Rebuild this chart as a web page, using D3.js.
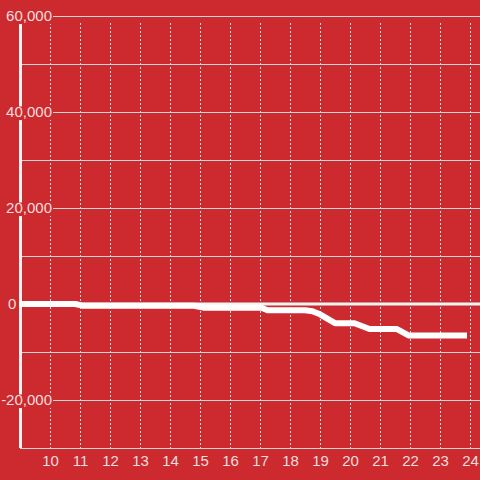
<!DOCTYPE html>
<html>
<head>
<meta charset="utf-8">
<script src="https://cdn.jsdelivr.net/npm/d3@7"></script>
<style>
  html, body { margin: 0; padding: 0; background: #cc2a2f; }
  svg { display: block; }
  text { font-family: "Liberation Sans", Arial, sans-serif; }
</style>
</head>
<body>
<svg id="chart" width="480" height="480"></svg>
<script>
// ---- data ----
const hours = [9, 10.85, 11.1, 14.8, 15.15, 17.05, 17.25, 18.5, 18.75, 19.0, 19.5, 20.15, 20.65, 21.55, 21.95, 23.9];
const values = [0, 0, -380, -380, -780, -780, -1300, -1300, -1500, -2150, -4000, -4000, -5200, -5200, -6550, -6550];
const xTicks = [10, 11, 12, 13, 14, 15, 16, 17, 18, 19, 20, 21, 22, 23, 24];
const yTicks = [-30000, -20000, -10000, 0, 10000, 20000, 30000, 40000, 50000, 60000];
const yLabelTicks = [-20000, 0, 20000, 40000, 60000];

(function () {
// ---- layout ----
const W = 480, H = 480;
const bg = "#cc2a2f";
const mLeft = 20, mRight = 480, mTop = 16, mBottom = 448;

const svg = d3.select("#chart");
svg.append("rect").attr("width", W).attr("height", H).attr("fill", bg);

const x = d3.scaleLinear().domain([9, 9 + (mRight - mLeft) / 30]).range([mLeft, mRight]);
const y = d3.scaleLinear().domain([-30000, 60000]).range([mBottom, mTop]);

// vertical dashed gridlines
svg.append("g").selectAll("line").data(xTicks).join("line")
  .attr("x1", d => x(d) + 0.5).attr("x2", d => x(d) + 0.5)
  .attr("y1", mTop + 7).attr("y2", mBottom)
  .attr("stroke", "#dcdcdc").attr("stroke-width", 1)
  .attr("stroke-dasharray", "2,2");

// horizontal gridlines
svg.append("g").selectAll("line").data(yTicks).join("line")
  .attr("x1", mLeft).attr("x2", mRight)
  .attr("y1", d => Math.round(y(d)) + 0.5).attr("y2", d => Math.round(y(d)) + 0.5)
  .attr("stroke", "#d4d4d4").attr("stroke-width", 1);

// y axis line
svg.append("line")
  .attr("x1", mLeft + 0.5).attr("x2", mLeft + 0.5)
  .attr("y1", mTop).attr("y2", mBottom)
  .attr("stroke", "#f2f2f2").attr("stroke-width", 3);

// zero reference line
svg.append("line")
  .attr("x1", mLeft + 2).attr("x2", mRight)
  .attr("y1", y(0)).attr("y2", y(0))
  .attr("stroke", "#f4f4f4").attr("stroke-width", 3);

// data line
const pts = hours.map((h, i) => [h, values[i]]);
const line = d3.line().x(d => x(d[0])).y(d => y(d[1]));
svg.append("path").datum(pts)
  .attr("d", line)
  .attr("fill", "none")
  .attr("stroke", "#ffffff")
  .attr("stroke-width", 6)
  .attr("stroke-linejoin", "round");

// y labels with background
const fmt = d3.format(",");
const yl = svg.append("g");
yLabelTicks.forEach(v => {
  const g = yl.append("g");
  const cy = y(v);
  const t = g.append("text")
    .attr("x", v === 0 ? 8 : 52)
    .attr("y", cy)
    .attr("dy", "0.35em")
    .attr("text-anchor", v === 0 ? "start" : "end")
    .attr("font-size", 15)
    .attr("fill", "#f3dede")
    .text(v < 0 ? "-" + fmt(-v) : fmt(v));
  const bb = t.node().getBBox();
  g.insert("rect", "text")
    .attr("x", bb.x - 1).attr("y", cy - 5.5)
    .attr("width", bb.width + 2).attr("height", 13.5)
    .attr("fill", bg);
});

// x labels
svg.append("g").selectAll("text").data(xTicks).join("text")
  .attr("x", d => x(d) + 0.5)
  .attr("y", 461)
  .attr("dy", "0.35em")
  .attr("text-anchor", "middle")
  .attr("font-size", 15)
  .attr("fill", "#f3dede")
  .text(d => d);
})();
</script>
</body>
</html>
